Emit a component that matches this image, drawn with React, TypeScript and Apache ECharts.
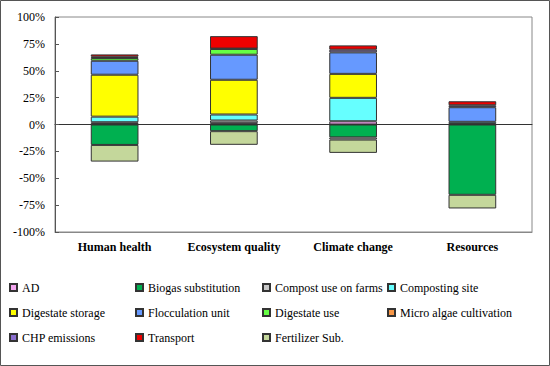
import React, { useEffect, useRef } from "react";
import * as echarts from "echarts";

const categories = ["Human health", "Ecosystem quality", "Climate change", "Resources"];
const yTicks = { min: -100, max: 100, interval: 25 };

const seriesNames = [
  "AD",
  "Biogas substitution",
  "Compost use on farms",
  "Composting site",
  "Digestate storage",
  "Flocculation unit",
  "Digestate use",
  "Micro algae cultivation",
  "CHP emissions",
  "Transport",
  "Fertilizer Sub.",
];

const adValues = [0.5, 1.2, 3, 0.5];
const biogasValues = [-19, -6.2, -12, -65.4];
const compostFarmsValues = [1.6, 2.5, -2, 0];
const compostingSiteValues = [5.2, 5.6, 21.8, 2];
const digestateStorageValues = [39, 32.3, 22.3, 0];
const flocculationValues = [13, 23.3, 20, 13.6];
const digestateUseValues = [2.5, 5.4, 0, 0];
const microAlgaeValues = [0, 0, 0, 0];
const chpValues = [1.2, 0.3, 2.5, 1.8];
const transportValues = [2.2, 11.6, 4, 3.7];
const fertilizerValues = [-15.5, -12.7, -12.4, -12.7];

const seriesValues = [
  adValues,
  biogasValues,
  compostFarmsValues,
  compostingSiteValues,
  digestateStorageValues,
  flocculationValues,
  digestateUseValues,
  microAlgaeValues,
  chpValues,
  transportValues,
  fertilizerValues,
];

const seriesColors = [
  "#F4A6F0",
  "#00B050",
  "#C8C8C8",
  "#66FFFF",
  "#FFFF00",
  "#6699FF",
  "#66FF44",
  "#F79646",
  "#8B6FD0",
  "#EE0000",
  "#C4D79B",
];

const FONT = "'Liberation Serif', 'Times New Roman', serif";

export default function App() {
  const ref = useRef<HTMLDivElement>(null);

  useEffect(() => {
    if (!ref.current) return;
    const chart = echarts.init(ref.current, undefined, { renderer: "svg" });

    const series = seriesNames.map((name, i) => ({
      name,
      type: "bar",
      stack: "total",
      barCategoryGap: "60%",
      xAxisIndex: 0,
      yAxisIndex: 0,
      itemStyle: { color: seriesColors[i], borderColor: "#333", borderWidth: 1 },
      data: seriesValues[i].map((v) => (v === 0 ? "-" : v)),
    }));

    const columns = [
      [0, 4, 8],
      [1, 5, 9],
      [2, 6, 10],
      [3, 7],
    ];
    const colLefts = [9, 135, 262, 387];

    const legends = columns.map((idx, c) => ({
      orient: "vertical",
      left: colLefts[c],
      top: 281,
      padding: 0,
      itemGap: 12,
      itemWidth: 7,
      itemHeight: 7,
      icon: "rect",
      textStyle: { fontFamily: FONT, fontSize: 12, color: "#000", lineHeight: 13 },
      data: idx.map((k) => seriesNames[k]),
      selectedMode: false,
    }));

    chart.setOption({
      animation: false,
      backgroundColor: "#fff",
      graphic: [
        {
          type: "rect",
          shape: { x: 0.5, y: 0.5, width: 549, height: 365 },
          style: { fill: "none", stroke: "#555", lineWidth: 1 },
          silent: true,
        },
      ],
      legend: legends,
      grid: {
        left: 55,
        right: 18,
        top: 17,
        bottom: 134,
        show: true,
        borderColor: "#888",
        borderWidth: 1,
      },
      xAxis: [
        {
          type: "category",
          data: categories,
          axisLine: { onZero: false, show: true, lineStyle: { color: "#888" } },
          axisTick: { show: false },
          axisLabel: {
            interval: 0,
            fontFamily: FONT,
            fontSize: 12,
            fontWeight: "bold",
            color: "#000",
            margin: 9,
          },
        },
        {
          type: "category",
          data: categories,
          position: "bottom",
          axisLine: { show: true, onZero: true, onZeroAxisIndex: 0, lineStyle: { color: "#333" } },
          axisTick: { show: false },
          axisLabel: { show: false },
          splitLine: { show: false },
        },
      ],
      yAxis: {
        type: "value",
        min: yTicks.min,
        max: yTicks.max,
        interval: yTicks.interval,
        axisLine: { show: true, lineStyle: { color: "#555" } },
        axisTick: { show: true, inside: true, length: 4, lineStyle: { color: "#555" } },
        splitLine: { show: false },
        axisLabel: {
          formatter: "{value}%",
          fontFamily: FONT,
          fontSize: 12,
          color: "#000",
          margin: 10,
        },
      },
      series,
    });

    return () => chart.dispose();
  }, []);

  return (
    <div
      ref={ref}
      style={{ position: "fixed", left: 0, top: 0, width: 550, height: 366 }}
    />
  );
}
